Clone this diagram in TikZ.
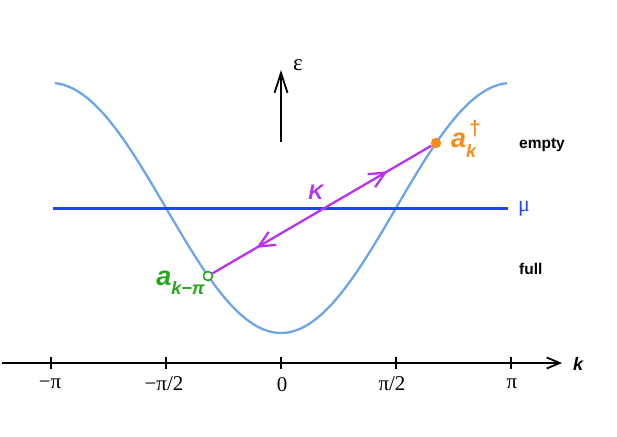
\documentclass[tikz,border=0pt]{standalone}
\usepackage{fontspec}
\setmainfont{Liberation Serif}
\setsansfont{Liberation Sans}
\usetikzlibrary{arrows.meta,decorations.markings}
\definecolor{curveblue}{RGB}{110,165,232}
\definecolor{mublue}{RGB}{30,70,245}
\definecolor{kpurple}{RGB}{185,50,240}
\definecolor{aorange}{RGB}{245,140,30}
\definecolor{agreen}{RGB}{40,165,30}
\tikzset{
  axisline/.style={line width=1.8pt, black},
  tickline/.style={line width=1.5pt, black},
  ticklabel/.style={font=\fontsize{21}{21}\selectfont, inner sep=0pt},
  bandcurve/.style={line width=2.3pt, curveblue},
  muline/.style={line width=3pt, mublue},
  kline/.style={line width=2.3pt, kpurple},
  sidelabel/.style={font=\sffamily\bfseries\fontsize{15.5}{16}\selectfont, anchor=west, inner sep=0pt},
}
\begin{document}
\begin{tikzpicture}[x=1pt,y=-1pt]
\useasboundingbox (0,0) rectangle (617,436);
% band curve
\draw[bandcurve] plot[domain=-176.9:176.9, samples=120] ({281+1.277778*\x},{208+125*cos(\x)});
% chemical potential
\coordinate (mu0) at (53,208);
\coordinate (mu1) at (508,208);
\draw[muline] (mu0) -- (mu1);
\node[text=mublue, font=\fontsize{22}{22}\selectfont, inner sep=0pt] (mulab) at (524,209) {μ};
% energy arrow
\coordinate (e0) at (281,142);
\coordinate (e1) at (281,70);
\draw[line width=1.8pt, -{Straight Barb[length=20pt,width=13pt,line width=1.8pt]}] (e0) -- (e1);
\node[font=\fontsize{23}{23}\selectfont, inner sep=0pt] (epslab) at (298,65) {ε};
% k axis
\coordinate (ax0) at (2,363);
\coordinate (ax1) at (562,363);
\draw[axisline, -{Straight Barb[length=13pt,width=11pt,line width=1.8pt]}] (ax0) -- (ax1);
\node[font=\sffamily\bfseries\itshape\fontsize{18}{18}\selectfont, inner sep=0pt] (klab) at (578,364) {k};
% ticks
\foreach \xx/\nm in {51/t1,166/t2,281/t3,396/t4,511/t5}{
  \coordinate (\nm a) at (\xx,357);
  \coordinate (\nm b) at (\xx,369);
  \draw[tickline] (\nm a) -- (\nm b);
}
\node[ticklabel] (l1) at (50,384) {−π};
\node[ticklabel] (l2) at (164,384) {−π/2};
\node[ticklabel] (l3) at (282,385) {0};
\node[ticklabel] (l4) at (392,384) {π/2};
\node[ticklabel] (l5) at (512,384) {π};
% states
\node[circle, draw=agreen, fill=white, line width=1.6pt, minimum size=9pt, inner sep=0pt] (g) at (208,276) {};
\node[circle, fill=aorange, minimum size=10.5pt, inner sep=0pt] (o) at (436,143) {};
\draw[kline, decoration={markings,
   mark=at position 0.8 with {\arrow{Straight Barb[length=16pt,width=15pt,line width=2.3pt]}},
   mark=at position 0.2 with {\arrowreversed{Straight Barb[length=16pt,width=15pt,line width=2.3pt]}}},
   postaction={decorate}] (g) -- (o);
\node[text=kpurple, font=\sffamily\bfseries\itshape\fontsize{21}{21}\selectfont, inner sep=0pt] (K) at (316,192) {K};
% labels
\node[text=aorange, anchor=base west, inner sep=0pt, font=\sffamily\bfseries\itshape] (ar) at (451,147)
  {\fontsize{27}{27}\selectfont a\makebox[0pt][l]{\hspace{3pt}\raisebox{12pt}{\fontsize{21}{21}\selectfont\upshape\bfseries †}}\raisebox{-10pt}{\fontsize{18}{18}\selectfont k}};
\node[text=agreen, anchor=base east, inner sep=0pt, font=\sffamily\bfseries\itshape] (al) at (205,285)
  {\fontsize{27}{27}\selectfont a\raisebox{-9pt}{\fontsize{18}{18}\selectfont k−π}};
\node[sidelabel] (empty) at (519,145) {empty};
\node[sidelabel] (full) at (519,269) {full};
\end{tikzpicture}
\end{document}
